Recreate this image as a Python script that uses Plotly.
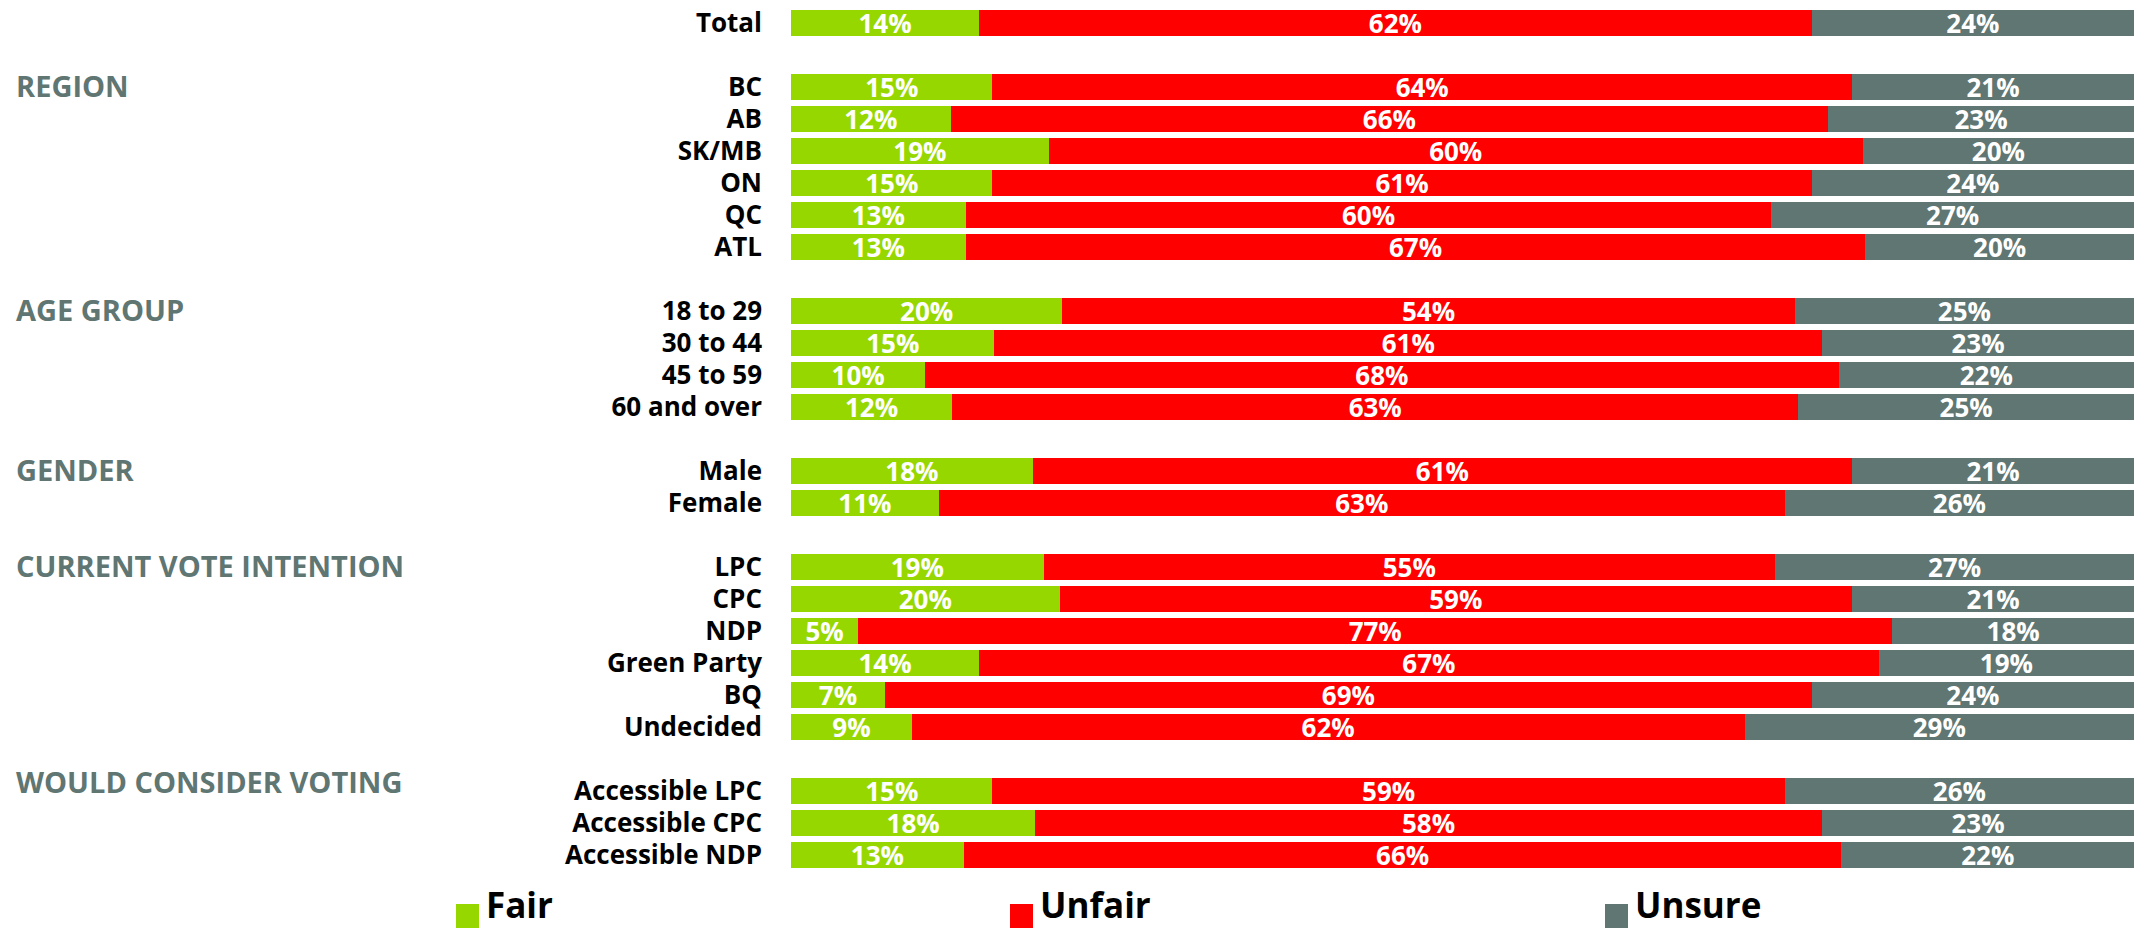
import plotly.graph_objects as go

# ---- data ----
categories = ["Total", " ",
              "BC", "AB", "SK/MB", "ON", "QC", "ATL", "  ",
              "18 to 29", "30 to 44", "45 to 59", "60 and over", "   ",
              "Male", "Female", "    ",
              "LPC", "CPC", "NDP", "Green Party", "BQ", "Undecided", "     ",
              "Accessible LPC", "Accessible CPC", "Accessible NDP"]

fair =   [14, None, 15, 12, 19, 15, 13, 13, None, 20, 15, 10, 12, None, 18, 11, None, 19, 20, 5, 14, 7, 9, None, 15, 18, 13]
unfair = [62, None, 64, 66, 60, 61, 60, 67, None, 54, 61, 68, 63, None, 61, 63, None, 55, 59, 77, 67, 69, 62, None, 59, 58, 66]
unsure = [24, None, 21, 23, 20, 24, 27, 20, None, 25, 23, 22, 25, None, 21, 26, None, 27, 21, 18, 19, 24, 29, None, 26, 23, 22]

series_names = ["Fair", "Unfair", "Unsure"]
series_values = [fair, unfair, unsure]
colors = ["#97D700", "#FF0000", "#5F7672"]

group_headers = ["REGION", "AGE GROUP", "GENDER", "CURRENT VOTE INTENTION", "WOULD CONSIDER VOTING"]
group_first_rows = ["BC", "18 to 29", "Male", "LPC", "Accessible LPC"]

FONT = "Open Sans, Liberation Sans, Arial, sans-serif"

# normalize each row to 100 so bars fill the full width
totals = []
for i in range(len(categories)):
    vals = [s[i] for s in series_values]
    totals.append(sum(v for v in vals if v is not None) if vals[0] is not None else None)

fig = go.Figure()
for name, vals, col in zip(series_names, series_values, colors):
    xs = [(v / t * 100) if v is not None else None for v, t in zip(vals, totals)]
    txt = [f"{v}%" if v is not None else "" for v in vals]
    fig.add_trace(go.Bar(
        x=xs, y=categories, orientation="h", name=name,
        marker=dict(color=col, line=dict(width=0)),
        text=txt, textposition="inside", insidetextanchor="middle",
        textangle=0,
        textfont=dict(color="white", size=26, family=FONT, weight="bold"),
        showlegend=False, hoverinfo="skip",
    ))

W, H = 2134, 929
L, R, T, B = 791, 0, 7, 58
plot_w = W - L - R
plot_h = H - T - B

fig.update_layout(
    width=W, height=H,
    margin=dict(l=L, r=R, t=T, b=B, pad=0),
    barmode="stack", bargap=0.19,
    plot_bgcolor="white", paper_bgcolor="white",
    uniformtext=dict(minsize=26, mode="show"),
    xaxis=dict(range=[0, 100], visible=False, fixedrange=True),
    yaxis=dict(type="category", categoryorder="array", categoryarray=categories,
               range=[len(categories) - 0.5, -0.5], showgrid=False, zeroline=False,
               ticks="", ticklabelstandoff=28, fixedrange=True,
               tickfont=dict(family=FONT, size=26, color="black", weight="bold")),
    font=dict(family=FONT),
)

# group headers
for hdr, row in zip(group_headers, group_first_rows):
    fig.add_annotation(text=hdr, xref="paper", yref="y", x=(14 - L) / plot_w, y=row,
                       xanchor="left", yanchor="middle", showarrow=False,
                       yshift=(10 if hdr == "WOULD CONSIDER VOTING" else 2),
                       font=dict(family=FONT, size=29, color="#5F7672", weight="bold"))

# legend (drawn manually for larger swatches)
legend_px = [456, 1010, 1605]
sq = 23
sq_top, sq_bot = 904, 928
for name, col, px in zip(series_names, colors, legend_px):
    fig.add_shape(type="rect", xref="paper", yref="paper",
                  x0=(px - L) / plot_w, x1=(px + sq - L) / plot_w,
                  y0=(H - B - sq_bot) / plot_h, y1=(H - B - sq_top) / plot_h,
                  fillcolor=col, line=dict(width=0))
    fig.add_annotation(text=name, xref="paper", yref="paper",
                       x=(px + sq + 5 - L) / plot_w, y=(H - B - 930) / plot_h,
                       xanchor="left", yanchor="bottom", showarrow=False,
                       font=dict(family=FONT, size=35, color="black", weight="bold"))

fig.write_html("out.html", config={"displayModeBar": False},
               post_script="document.body.style.margin='0';document.body.style.overflow='hidden';")
